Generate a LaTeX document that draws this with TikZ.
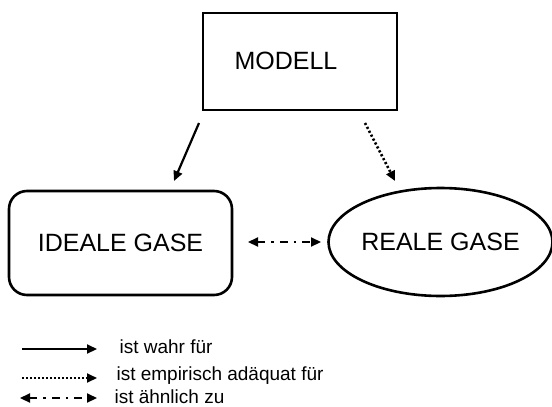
\documentclass[tikz,border=0pt]{standalone}
\usepackage{fontspec}
\setmainfont{Liberation Sans}
\usetikzlibrary{shapes.geometric,arrows.meta}
\begin{document}
\begin{tikzpicture}[x=1pt,y=-1pt,
  lbl/.style={font=\fontsize{25}{30}\selectfont},
  leg/.style={font=\fontsize{19}{23}\selectfont, anchor=west},
  shapeline/.style={draw, line width=2.6pt},
  conn/.style={line width=2.2pt, -{Triangle[length=10pt,width=9pt]}},
  dotline/.style={conn, dash pattern=on 2.2pt off 2.2pt, line width=2.6pt},
  dashdot/.style={line width=2.2pt, dash pattern=on 8pt off 6pt on 2.5pt off 6pt, {Triangle[length=10pt,width=9pt]}-{Triangle[length=10pt,width=9pt]}}]
\useasboundingbox (0,0) rectangle (552,407);
\node[shapeline, minimum width=194pt, minimum height=97pt] (modell) at (300,61.5) {};
\node[lbl] (modelltxt) at (286,61) {MODELL};
\node[shapeline, rounded corners=18pt, minimum width=223pt, minimum height=104pt, lbl] (ideal) at (120.5,243) {IDEALE GASE};
\node[shapeline, ellipse, minimum width=215pt, minimum height=108pt, inner sep=0pt, lbl] (real) at (440.5,242) {REALE GASE};
\coordinate (a1) at (199,123); \coordinate (a2) at (174,181);
\coordinate (b1) at (365,123); \coordinate (b2) at (395,181);
\draw[conn] (a1) -- (a2);
\draw[dotline] (b1) -- (b2);
\coordinate (c1) at (248,242); \coordinate (c2) at (321,242);
\draw[dashdot] (c1) -- (c2);
\coordinate (l1a) at (22,349); \coordinate (l1b) at (97,349);
\coordinate (l2a) at (22,378); \coordinate (l2b) at (97,378);
\coordinate (l3a) at (20,398); \coordinate (l3b) at (97,398);
\draw[conn] (l1a) -- (l1b);
\draw[dotline, line width=2pt, dash pattern=on 1.8pt off 2.2pt] (l2a) -- (l2b);
\draw[dashdot] (l3a) -- (l3b);
\node[leg] (t1) at (116,347) {ist wahr für};
\node[leg] (t2) at (113,376) {ist empirisch adäquat für};
\node[leg] (t3) at (111,397) {ist ähnlich zu};
\end{tikzpicture}
\end{document}
